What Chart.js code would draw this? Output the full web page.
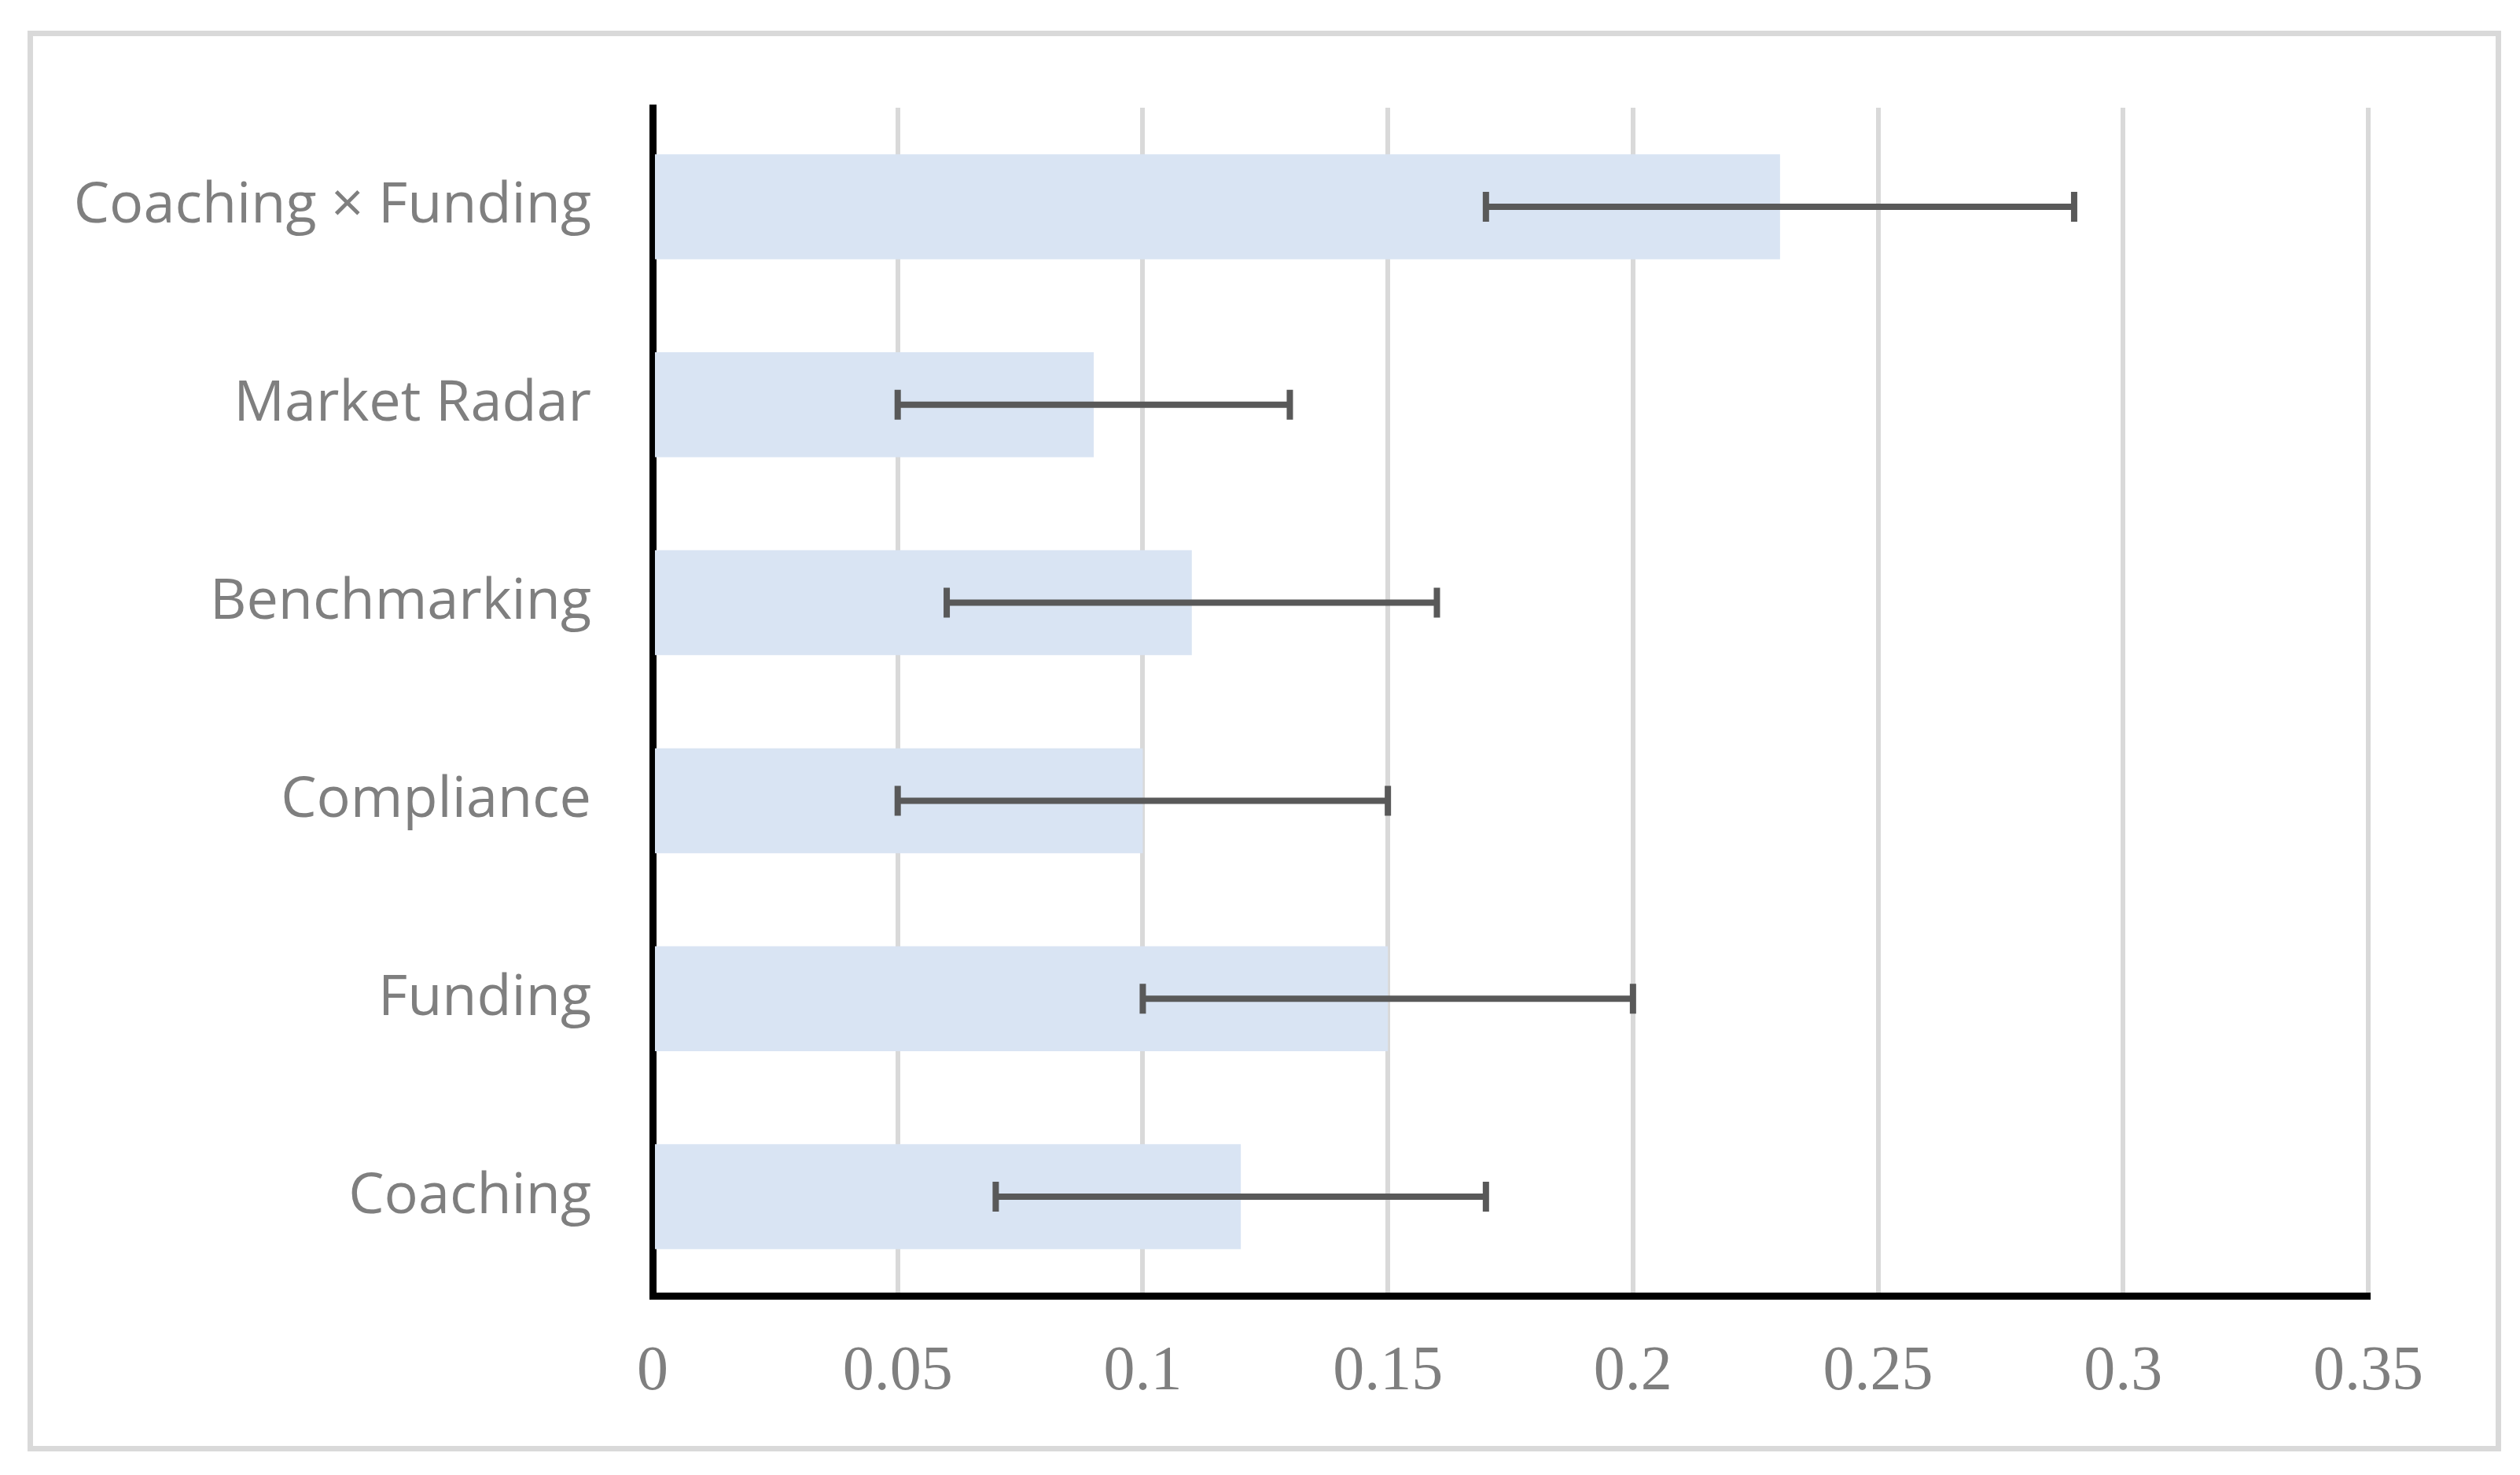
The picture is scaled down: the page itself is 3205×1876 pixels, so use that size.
<!DOCTYPE html>
<html>
<head>
<meta charset="utf-8">
<script src="https://cdn.jsdelivr.net/npm/chart.js@4.4.1/dist/chart.umd.min.js"></script>
<style>
  html, body { margin: 0; padding: 0; background: #ffffff; }
  #wrap { position: absolute; left: 0; top: 0; width: 3205px; height: 1876px; }
  #frame { position: absolute; left: 35px; top: 39px; width: 3132px; height: 1793px; border: 7px solid #d9d9d9; }
  canvas { position: absolute; left: 0; top: 0; }
</style>
</head>
<body>
<div id="wrap">
  <div id="frame"></div>
  <canvas id="c" width="3205" height="1876" style="width:3205px;height:1876px"></canvas>
</div>
<script>
// ---- data ----
const categories = ["Coaching × Funding", "Market Radar", "Benchmarking", "Compliance", "Funding", "Coaching"];
const effects    = [0.23, 0.09, 0.11, 0.10, 0.15, 0.12];
const ciLow      = [0.17, 0.05, 0.06, 0.05, 0.10, 0.07];
const ciHigh     = [0.29, 0.13, 0.16, 0.15, 0.20, 0.17];
const xTicks     = [0, 0.05, 0.1, 0.15, 0.2, 0.25, 0.3, 0.35];

const errorBars = {
  id: 'errorBars',
  afterDatasetsDraw(chart) {
    const ctx = chart.ctx;
    const xs = chart.scales.x, ys = chart.scales.y;
    ctx.save();
    ctx.strokeStyle = '#595959';
    ctx.lineWidth = 8;
    ctx.lineCap = 'butt';
    for (let i = 0; i < categories.length; i++) {
      const y = ys.getPixelForValue(i);
      const x1 = xs.getPixelForValue(ciLow[i]);
      const x2 = xs.getPixelForValue(ciHigh[i]);
      ctx.beginPath();
      ctx.moveTo(x1, y); ctx.lineTo(x2, y);
      ctx.moveTo(x1, y - 19); ctx.lineTo(x1, y + 19);
      ctx.moveTo(x2, y - 19); ctx.lineTo(x2, y + 19);
      ctx.stroke();
    }
    ctx.restore();
  }
};

new Chart(document.getElementById('c'), {
  type: 'bar',
  data: {
    labels: categories,
    datasets: [{
      data: effects,
      backgroundColor: '#d9e4f3',
      borderWidth: 0,
      categoryPercentage: 1.0,
      barPercentage: 0.53
    }]
  },
  options: {
    indexAxis: 'y',
    responsive: false,
    devicePixelRatio: 1,
    animation: false,
    layout: { padding: { left: 0, right: 193, top: 137, bottom: 0 } },
    plugins: { legend: { display: false }, tooltip: { enabled: false } },
    scales: {
      x: {
        min: 0, max: 0.35,
        afterBuildTicks(scale) { scale.ticks = xTicks.map(v => ({ value: v })); },
        afterFit(scale) { scale.height = 1876 - 1648; },
        grid: { display: true, color: '#d9d9d9', lineWidth: 6, drawTicks: false },
        border: { display: true, color: '#000000', width: 9 },
        ticks: {
          padding: 50,
          color: '#7f7f7f',
          font: { family: '"Liberation Serif", "Times New Roman", serif', size: 80 },
          callback: (v) => String(v)
        }
      },
      y: {
        afterFit(scale) { scale.width = 830; },
        grid: { display: false, drawTicks: false },
        border: { display: true, color: '#000000', width: 9 },
        ticks: {
          padding: 78,
          color: '#7f7f7f',
          font: { family: '"Open Sans", "Noto Sans", sans-serif', size: 72 }
        }
      }
    }
  },
  plugins: [errorBars]
});
</script>
</body>
</html>
